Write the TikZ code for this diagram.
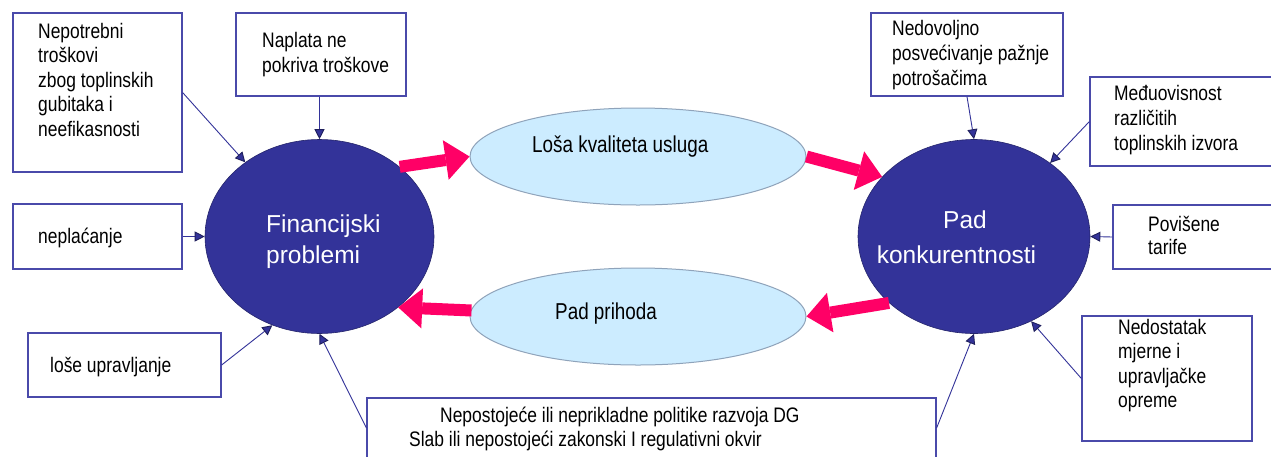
\documentclass[tikz,border=0pt]{standalone}
\usepackage{fontspec}
\setmainfont{Liberation Sans}
\newfontfamily\smallf{Liberation Sans}[FakeStretch=0.83]
\newfontfamily\midf{Liberation Sans}[FakeStretch=0.82]
\usetikzlibrary{shapes.geometric,arrows.meta,calc}
\definecolor{navy}{HTML}{333399}
\definecolor{hot}{HTML}{FF0066}
\definecolor{pale}{HTML}{CCECFF}
\definecolor{paleedge}{HTML}{8FA3BA}
\definecolor{boxedge}{HTML}{4A4AAA}
\tikzset{
 box/.style={draw=boxedge,line width=1.2pt,fill=white,inner sep=0pt,rectangle},
 sm/.style={inner sep=0pt,anchor=base west,font=\smallf\fontsize{21}{25}\selectfont,text=black},
 mid/.style={inner sep=0pt,anchor=base west,font=\midf\fontsize{23}{27}\selectfont,text=black},
 big/.style={inner sep=0pt,anchor=base west,font=\fontsize{24.5}{29}\selectfont,text=white},
 core/.style={ellipse,draw=navy!70!black,line width=0.6pt,fill=navy,inner sep=0pt},
 effect/.style={ellipse,draw=paleedge,line width=1pt,fill=pale,inner sep=0pt,minimum width=336pt,minimum height=97pt},
 conn/.style={draw=navy,line width=0.9pt,-{Triangle[length=10pt,width=10pt,color=navy!60!black,fill=navy]}},
 flow/.style={draw=hot,line width=12pt,-{Triangle[length=24pt,width=40pt,line width=0pt]}},
}
\begin{document}
\begin{tikzpicture}[x=1pt,y=-1pt]
\clip (0,0) rectangle (1271,456);
\fill[white] (0,0) rectangle (1271,456);

% boxes
\node[box,minimum width=169pt,minimum height=159pt] (bA) at (97.5,92.5) {};
\node[box,minimum width=170pt,minimum height=83pt] (bB) at (321,54.5) {};
\node[box,minimum width=169pt,minimum height=65pt] (bC) at (97.5,236.5) {};
\node[box,minimum width=193pt,minimum height=64pt] (bD) at (124.5,365) {};
\node[box,minimum width=569pt,minimum height=60pt] (bE) at (651.5,428) {};
\node[box,minimum width=192pt,minimum height=83pt] (bF) at (967,54.5) {};
\node[box,minimum width=200pt,minimum height=89pt] (bG) at (1190,121.5) {};
\node[box,minimum width=177pt,minimum height=64pt] (bH) at (1201.5,237) {};
\node[box,minimum width=170pt,minimum height=125pt] (bI) at (1167,378.5) {};

% ellipses
\node[core,minimum width=229pt,minimum height=194pt] (fp) at (319.5,236.5) {};
\node[core,minimum width=232pt,minimum height=194pt] (pk) at (974,236.5) {};
\node[effect] (lq) at (638,156.5) {};
\node[effect] (pp) at (638,316.5) {};

% blue connectors
\draw[conn] (bA.east) -- (fp.135.5);
\draw[conn] (bB.south -| fp.north) -- (fp.north);
\draw[conn] (bC.east) -- (fp.west);
\draw[conn] (bD.east) -- (fp.242);
\draw[conn] (bE.west) -- (fp.south);
\draw[conn] (bE.east) -- (pk.south);
\draw[conn] (bF.south) -- (pk.north);
\draw[conn] (bG.west) -- (pk.44);
\draw[conn] (bH.west) -- (pk.east);
\draw[conn] (bI.west) -- (pk.-56);

% pink flow arrows
\draw[flow] (fp.41) -- (lq.west);
\draw[flow] (lq.east) -- (pk.147.5);
\draw[flow] (pk.218) -- (pp.east);
\draw[flow] ($(pp.west)+(2,-6)$) -- (fp.-42);

% texts in ellipses
\node[big] (t1) at (266,232) {Financijski};
\node[big] (t2) at (266,263) {problemi};
\node[big,anchor=base] (t3) at (965,228) {Pad};
\node[big,anchor=base] (t4) at (956.5,263) {konkurentnosti};
\node[mid] (t5) at (532,152) {Loša kvaliteta usluga};
\node[mid] (t6) at (555,319) {Pad prihoda};

% texts in boxes
\node[sm] (a1) at (38,38) {Nepotrebni};
\node[sm] (a2) at (38,62.5) {troškovi};
\node[sm] (a3) at (38,87) {zbog toplinskih};
\node[sm] (a4) at (38,111.5) {gubitaka i};
\node[sm] (a5) at (38,136) {neefikasnosti};
\node[sm] (b1) at (262,47) {Naplata ne};
\node[sm] (b2) at (262,72) {pokriva troškove};
\node[sm] (c1) at (38,243) {neplaćanje};
\node[sm] (d1) at (50,372) {loše upravljanje};
\node[sm] (e1) at (440,422) {Nepostojeće ili neprikladne politike razvoja DG};
\node[sm] (e2) at (409,446) {Slab ili nepostojeći zakonski I regulativni okvir};
\node[sm] (f1) at (892,35) {Nedovoljno};
\node[sm] (f2) at (892,60) {posvećivanje pažnje};
\node[sm] (f3) at (892,85) {potrošačima};
\node[sm] (g1) at (1114,100) {Međuovisnost};
\node[sm] (g2) at (1114,125.5) {različitih};
\node[sm] (g3) at (1114,150) {toplinskih izvora};
\node[sm] (h1) at (1148,231) {Povišene};
\node[sm] (h2) at (1148,254) {tarife};
\node[sm] (i1) at (1118,334) {Nedostatak};
\node[sm] (i2) at (1118,358.5) {mjerne i};
\node[sm] (i3) at (1118,383) {upravljačke};
\node[sm] (i4) at (1118,407.5) {opreme};
\end{tikzpicture}
\end{document}
